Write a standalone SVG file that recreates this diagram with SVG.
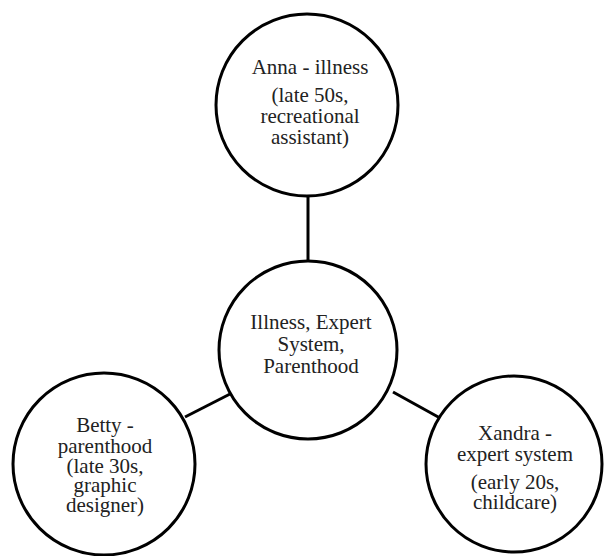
<svg xmlns="http://www.w3.org/2000/svg" width="605" height="556" viewBox="0 0 605 556">
<style>
.node{fill:#fff;stroke:#000;stroke-width:3}
.edge{stroke:#000;stroke-width:3;fill:none}
text{font-family:"Liberation Serif","Times New Roman",serif;font-size:21px;fill:#222;text-anchor:middle}
</style>
<rect width="605" height="556" fill="#fff"/>
<g id="connectors">
<line class="edge" x1="308" y1="197" x2="308" y2="262"/>
<line class="edge" x1="185" y1="417" x2="232" y2="393"/>
<line class="edge" x1="393" y1="392" x2="440" y2="418"/>
</g>
<g id="anna">
<circle class="node" cx="307" cy="105" r="91"/>
<text x="310" y="74">Anna - illness</text>
<text x="310" y="102">(late 50s,</text>
<text x="310" y="123">recreational</text>
<text x="310" y="144">assistant)</text>
</g>
<g id="center">
<circle class="node" cx="308" cy="350" r="89"/>
<text x="311" y="329">Illness, Expert</text>
<text x="311" y="351">System,</text>
<text x="311" y="373">Parenthood</text>
</g>
<g id="betty">
<circle class="node" cx="104" cy="464" r="91"/>
<text x="105" y="432">Betty -</text>
<text x="105" y="453">parenthood</text>
<text x="105" y="473">(late 30s,</text>
<text x="105" y="492">graphic</text>
<text x="105" y="512">designer)</text>
</g>
<g id="xandra">
<circle class="node" cx="514" cy="464" r="88"/>
<text x="515" y="440">Xandra -</text>
<text x="515" y="461">expert system</text>
<text x="515" y="489">(early 20s,</text>
<text x="515" y="509">childcare)</text>
</g>
</svg>
